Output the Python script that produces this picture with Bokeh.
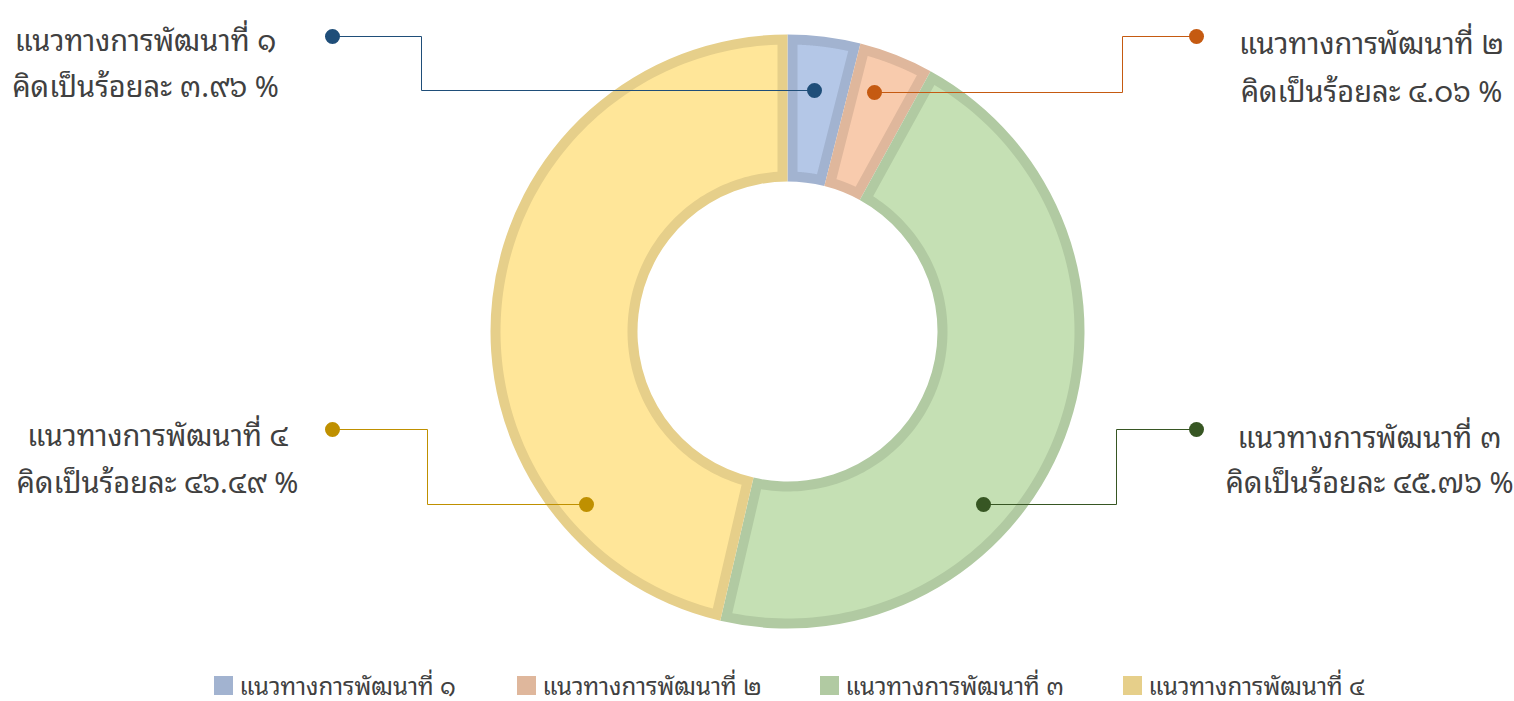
import math
from bokeh.plotting import figure
from bokeh.models import Range1d
from bokeh.core.properties import value
from bokeh.embed import file_html
from bokeh.resources import INLINE

# ---------------- data ----------------
categories = ["แนวทางการพัฒนาที่ ๑", "แนวทางการพัฒนาที่ ๒", "แนวทางการพัฒนาที่ ๓", "แนวทางการพัฒนาที่ ๔"]
values = [3.96, 4.06, 45.76, 46.49]
value_labels = ["คิดเป็นร้อยละ ๓.๙๖ %", "คิดเป็นร้อยละ ๔.๐๖ %", "คิดเป็นร้อยละ ๔๕.๗๖ %", "คิดเป็นร้อยละ ๔๖.๔๙ %"]

# ---------------- style ----------------
fill_colors = ["#b4c7e7", "#f8cbad", "#c5e0b4", "#ffe699"]
border_colors = ["#a2b3d0", "#dfb79c", "#b1caa2", "#e6cf8a"]
dot_colors = ["#1f4e79", "#c55a11", "#375623", "#bf9000"]
text_color = "#404040"
FONT = "Noto Sans Thai Looped, Noto Sans Thai, Tahoma, Noto Sans, sans-serif"

W, H = 1514, 701


def P(x, y):
    """picture pixel -> plot coordinates"""
    return x, H - y


cx, cy = P(787, 331)
R_OUT, R_IN, B = 297, 150, 10

p = figure(width=W, height=H, output_backend="svg", toolbar_location=None,
           x_range=Range1d(0, W), y_range=Range1d(0, H),
           x_axis_location=None, y_axis_location=None,
           min_border=0, min_border_left=0, min_border_right=0,
           min_border_top=0, min_border_bottom=0)
p.outline_line_color = None
p.grid.visible = False
p.background_fill_color = "white"

total = sum(values)
starts, ends = [], []
acc = 0.0
for v in values:
    a1 = math.pi / 2 - acc / total * 2 * math.pi
    acc += v
    a2 = math.pi / 2 - acc / total * 2 * math.pi
    starts.append(a1)
    ends.append(a2)

# outer (border-coloured) slices
p.annular_wedge(x=[cx] * 4, y=[cy] * 4, inner_radius=R_IN, outer_radius=R_OUT,
                start_angle=ends, end_angle=starts, direction="anticlock",
                fill_color=border_colors, line_color=None)

# inset (fill-coloured) slices, border of constant width B
xs_list, ys_list = [], []
for a1, a2 in zip(starts, ends):
    xs, ys = [], []
    ro, ri = R_OUT - B, R_IN + B
    o1 = a1 - math.asin(B / ro)
    o2 = a2 + math.asin(B / ro)
    i1 = a1 - math.asin(B / ri)
    i2 = a2 + math.asin(B / ri)
    n = 120
    for k in range(n + 1):
        t = o1 + (o2 - o1) * k / n
        xs.append(cx + ro * math.cos(t))
        ys.append(cy + ro * math.sin(t))
    for k in range(n + 1):
        t = i2 + (i1 - i2) * k / n
        xs.append(cx + ri * math.cos(t))
        ys.append(cy + ri * math.sin(t))
    xs_list.append(xs)
    ys_list.append(ys)
p.patches(xs_list, ys_list, fill_color=fill_colors, line_color=None)

# ---------------- callouts (layout) ----------------
# (label dot, elbow x, slice dot) in picture pixels
callouts = [
    ((332, 36), 421, (814, 90)),
    ((1196, 36), 1122, (874, 92)),
    ((1196, 429), 1116, (983, 504)),
    ((332, 429), 427, (586, 504)),
]
label_pos = [
    (145, 37, 83),
    (1371, 40, 88),
    (1369, 434, 479),
    (157, 432, 479),
]
for i, ((lx, ly), ex, (sx, sy)) in enumerate(callouts):
    pts = [P(lx, ly), P(ex, ly), P(ex, sy), P(sx, sy)]
    p.line([q[0] for q in pts], [q[1] for q in pts], line_color=dot_colors[i], line_width=1)
    p.scatter([pts[0][0], pts[3][0]], [pts[0][1], pts[3][1]], size=15,
              fill_color=dot_colors[i], line_color=None)
    tx, y1, y2 = label_pos[i]
    X1, Y1 = P(tx, y1)
    X2, Y2 = P(tx, y2)
    p.text([X1, X2], [Y1, Y2], text=[categories[i], value_labels[i]],
           text_align="center", text_baseline="middle",
           text_font=value(FONT), text_font_size="29px", text_color=text_color)

# ---------------- legend ----------------
leg_x0, leg_step, leg_y = 223, 303, 683
for i in range(4):
    sx, sy = P(leg_x0 + i * leg_step, leg_y + 2)
    p.scatter([sx], [sy], marker="square", size=19, fill_color=border_colors[i], line_color=None)
    tx, ty = P(leg_x0 + i * leg_step + 16, leg_y)
    p.text([tx], [ty], text=[categories[i]], text_align="left", text_baseline="middle",
           text_font=value(FONT), text_font_size="24px", text_color=text_color)

open("out.html", "w").write(file_html(p, INLINE))
